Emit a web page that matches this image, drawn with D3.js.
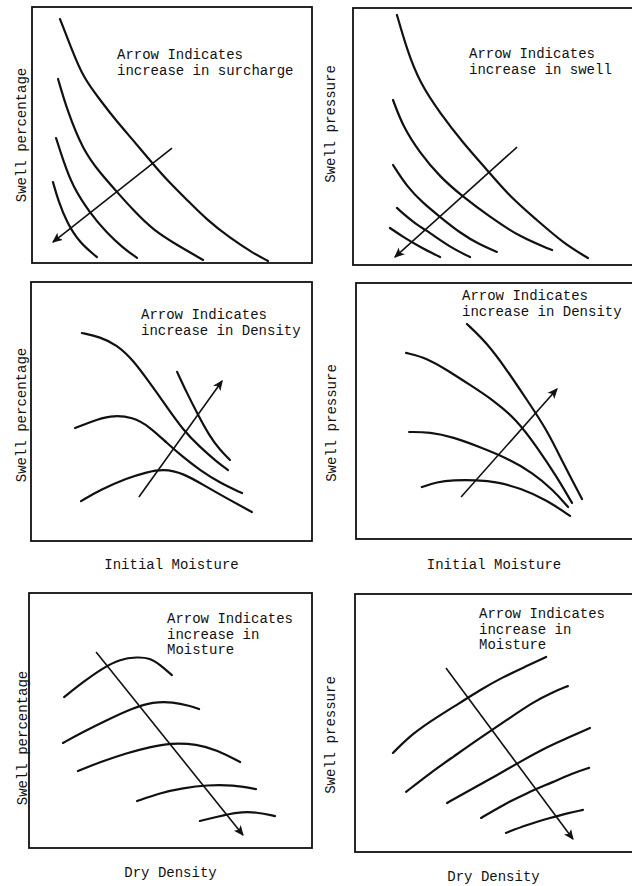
<!DOCTYPE html>
<html>
<head>
<meta charset="utf-8">
<script src="https://cdn.jsdelivr.net/npm/d3@7"></script>
<style>
  html, body { margin: 0; padding: 0; background: #fff; }
  svg { display: block; }
  text { font-family: "Liberation Mono", "DejaVu Sans Mono", monospace; font-size: 14px; fill: #111; }
</style>
</head>
<body>
<svg id="chart" width="632" height="886"></svg>
<script>
// Qualitative trend sketches: each panel uses a normalised 0–100 scale on both axes.

// --- Swell percentage vs. initial moisture, family of surcharge curves
const surchargeCurves = [
  [[10.0,95.3],[14.3,83.2],[18.2,72.7],[24.3,63.7],[30.4,55.1],[36.1,48.0],[42.9,39.1],[48.2,32.4],[55.4,24.6],[62.5,16.8],[70.7,9.8],[78.9,3.9],[84.3,0.8]],
  [[9.3,71.9],[12.5,59.8],[18.2,44.1],[24.3,35.2],[30.4,27.7],[36.1,20.7],[43.2,12.9],[51.8,7.0],[61.1,1.2]],
  [[8.6,48.8],[11.1,40.2],[14.6,29.7],[20.7,19.5],[26.8,11.7],[32.5,5.9],[37.5,2.0]],
  [[7.5,31.6],[9.3,24.6],[12.5,15.6],[17.1,7.8],[23.2,2.3]]
];
const surchargeArrow = [[50.0,44.9],[7.5,8.2]];

// --- Swell pressure vs. initial moisture, family of swell curves
const swellCurves = [
  [[15.7,97.3],[19.3,83.7],[23.9,70.8],[31.1,59.1],[39.3,47.5],[47.9,37.0],[56.1,26.5],[65.7,17.5],[75.0,8.6],[83.9,2.7]],
  [[14.3,64.2],[17.9,53.7],[23.9,43.6],[31.1,34.2],[39.3,26.5],[48.9,18.7],[59.6,10.9],[71.1,5.8]],
  [[14.3,38.9],[19.3,30.4],[25.0,24.1],[31.1,18.7],[38.2,12.5],[45.4,7.8],[51.4,5.1]],
  [[15.7,22.2],[21.4,16.7],[27.5,12.5],[34.6,7.0],[41.8,3.1]],
  [[13.2,14.4],[17.9,10.9],[23.9,7.0],[31.1,3.1]]
];
const swellArrow = [[58.6,45.9],[15.0,3.1]];

// --- Swell percentage vs. initial moisture, by density
const densityPctCurves = [
  [[18.1,80.3],[24.6,78.8],[30.6,75.7],[36.3,69.9],[42.3,61.0],[48.4,51.7],[54.1,42.9],[60.1,36.3],[66.2,30.5],[70.1,27.4]],
  [[52.0,65.3],[55.5,57.1],[59.1,49.4],[63.7,40.2],[67.3,35.1],[70.8,31.3]],
  [[15.7,43.6],[21.0,45.9],[28.1,48.6],[36.3,47.9],[42.3,44.0],[48.4,37.8],[54.1,32.4],[60.1,27.4],[67.3,22.4],[75.1,18.5]],
  [[17.8,15.4],[24.6,19.7],[34.2,24.3],[41.3,26.6],[47.0,27.8],[54.1,26.3],[62.6,20.8],[70.8,15.8],[78.6,11.2]]
];
const densityPctArrow = [[38.4,17.0],[68.0,61.8]];

// --- Swell pressure vs. initial moisture, by density
const densityPresCurves = [
  [[39.9,84.0],[47.1,76.6],[54.3,66.0],[61.5,54.3],[68.7,42.6],[74.5,29.7],[81.3,15.6]],
  [[18.0,72.7],[25.5,70.7],[32.7,66.0],[41.0,60.2],[49.3,54.3],[57.9,46.5],[65.1,35.9],[72.3,24.2],[77.7,14.1]],
  [[19.1,41.8],[26.6,41.8],[34.9,39.8],[44.6,35.9],[54.3,31.6],[63.7,25.8],[70.9,19.1],[76.3,12.5]],
  [[23.7,20.3],[29.1,22.3],[34.9,23.0],[43.5,23.0],[50.7,22.3],[59.0,19.9],[68.7,15.2],[77.0,9.0]]
];
const densityPresArrow = [[37.8,16.4],[72.3,58.6]];

// --- Swell percentage vs. dry density, by moisture
const moisturePctCurves = [
  [[12.4,59.2],[19.1,65.1],[26.1,70.6],[32.2,74.1],[38.2,74.9],[42.8,74.5],[46.3,71.8],[50.5,67.8]],
  [[12.0,41.2],[19.1,45.5],[27.6,50.2],[36.7,54.9],[43.8,57.3],[50.9,57.3],[56.9,55.7],[60.1,54.5]],
  [[17.3,30.2],[25.1,33.7],[34.6,37.3],[42.8,39.6],[49.8,41.2],[59.4,40.8],[66.4,38.4],[74.6,33.7]],
  [[38.2,18.4],[46.3,21.6],[54.4,23.5],[62.9,24.7],[72.1,24.7],[80.2,23.1]],
  [[60.4,10.6],[66.4,12.2],[73.5,14.1],[80.6,14.1],[86.9,12.5]]
];
const moisturePctArrow = [[23.7,76.9],[75.6,5.1]];

// --- Swell pressure vs. dry density, by moisture
const moisturePresCurves = [
  [[13.6,38.4],[20.8,46.1],[29.4,52.3],[37.6,57.8],[44.8,62.8],[53.0,67.8],[61.6,72.1],[68.5,75.6]],
  [[18.3,23.3],[26.9,30.6],[35.1,36.8],[44.8,44.2],[54.5,51.2],[63.8,58.1],[71.0,62.0],[76.3,64.3]],
  [[33.0,19.0],[41.2,24.0],[50.9,29.8],[59.1,34.9],[68.8,40.7],[77.1,44.6],[84.2,48.1]],
  [[45.2,13.2],[53.0,18.2],[61.6,22.9],[71.0,27.1],[78.1,30.6],[83.9,32.6]],
  [[54.1,7.4],[61.6,10.5],[69.9,13.2],[76.3,15.1],[81.7,16.3]]
];
const moisturePresArrow = [[32.6,71.3],[78.1,5.0]];

// --- Labels
const yLabels = ["Swell percentage", "Swell pressure", "Swell percentage", "Swell pressure", "Swell percentage", "Swell pressure"];
const xLabels = ["", "", "Initial Moisture", "Initial Moisture", "Dry Density", "Dry Density"];
const notes = [
  ["Arrow Indicates", "increase in surcharge"],
  ["Arrow Indicates", "increase in swell"],
  ["Arrow Indicates", "increase in Density"],
  ["Arrow Indicates", "increase in Density"],
  ["Arrow Indicates", "increase in", "Moisture"],
  ["Arrow Indicates", "increase in", "Moisture"]
];

// Panel frames (px), annotation offset, axis-title placement
const frames = [
  {x0: 32,  x1: 312, y0: 7,   y1: 263, nx: 85,  ny: 52, ylx: 22,  yly: 135, xly: null},
  {x0: 353, x1: 633, y0: 8,   y1: 265, nx: 116, ny: 50, ylx: 331, yly: 124, xly: null},
  {x0: 31,  x1: 312, y0: 282, y1: 541, nx: 110, ny: 37, ylx: 22,  yly: 415, xly: 569},
  {x0: 356, x1: 634, y0: 283, y1: 539, nx: 106, ny: 17, ylx: 332, yly: 423, xly: 569},
  {x0: 29,  x1: 312, y0: 593, y1: 848, nx: 138, ny: 30, ylx: 23,  yly: 738, xly: 877},
  {x0: 355, x1: 634, y0: 594, y1: 852, nx: 124, ny: 24, ylx: 331, yly: 735, xly: 881}
];

const panels = [
  {curves: surchargeCurves,   arrow: surchargeArrow},
  {curves: swellCurves,       arrow: swellArrow},
  {curves: densityPctCurves,  arrow: densityPctArrow},
  {curves: densityPresCurves, arrow: densityPresArrow},
  {curves: moisturePctCurves, arrow: moisturePctArrow},
  {curves: moisturePresCurves,arrow: moisturePresArrow}
];

const svg = d3.select("#chart");
svg.append("rect").attr("width", 632).attr("height", 886).attr("fill", "#fff");

svg.append("defs").append("marker")
  .attr("id", "head")
  .attr("viewBox", "0 0 10 10")
  .attr("refX", 9).attr("refY", 5)
  .attr("markerWidth", 10).attr("markerHeight", 10)
  .attr("markerUnits", "userSpaceOnUse")
  .attr("orient", "auto")
  .append("path")
  .attr("d", "M1,1.5 L9,5 L1,8.5 L3,5 Z")
  .attr("fill", "#111")
  .attr("stroke", "#111")
  .attr("stroke-width", 1);

panels.forEach((p, i) => {
  const f = frames[i];
  const x = d3.scaleLinear().domain([0, 100]).range([f.x0, f.x1]);
  const y = d3.scaleLinear().domain([0, 100]).range([f.y1, f.y0]);
  const g = svg.append("g");

  // frame
  g.append("rect")
    .attr("x", f.x0).attr("y", f.y0)
    .attr("width", f.x1 - f.x0).attr("height", f.y1 - f.y0)
    .attr("fill", "none").attr("stroke", "#111").attr("stroke-width", 1.8);

  const line = d3.line()
    .x(d => x(d[0])).y(d => y(d[1]))
    .curve(d3.curveBasis);

  g.selectAll("path.curve").data(p.curves).join("path")
    .attr("class", "curve")
    .attr("d", line)
    .attr("fill", "none")
    .attr("stroke", "#111")
    .attr("stroke-width", 2.2)
    .attr("stroke-linecap", "round");

  g.append("path")
    .attr("d", d3.line().x(d => x(d[0])).y(d => y(d[1]))(p.arrow))
    .attr("fill", "none")
    .attr("stroke", "#111")
    .attr("stroke-width", 1.6)
    .attr("marker-end", "url(#head)");

  // annotation
  const t = g.append("text")
    .attr("x", f.x0 + f.nx)
    .attr("y", f.y0 + f.ny);
  notes[i].forEach((s, k) => {
    t.append("tspan").attr("x", f.x0 + f.nx).attr("dy", k === 0 ? 0 : 15.5).text(s);
  });

  // y-axis title
  g.append("text")
    .attr("transform", `translate(${f.ylx},${f.yly}) rotate(-90)`)
    .attr("text-anchor", "middle")
    .attr("dominant-baseline", "central")
    .text(yLabels[i]);

  // x-axis title
  if (xLabels[i]) {
    g.append("text")
      .attr("x", (f.x0 + Math.min(f.x1, 632)) / 2)
      .attr("y", f.xly)
      .attr("text-anchor", "middle")
      .text(xLabels[i]);
  }
});
</script>
</body>
</html>
